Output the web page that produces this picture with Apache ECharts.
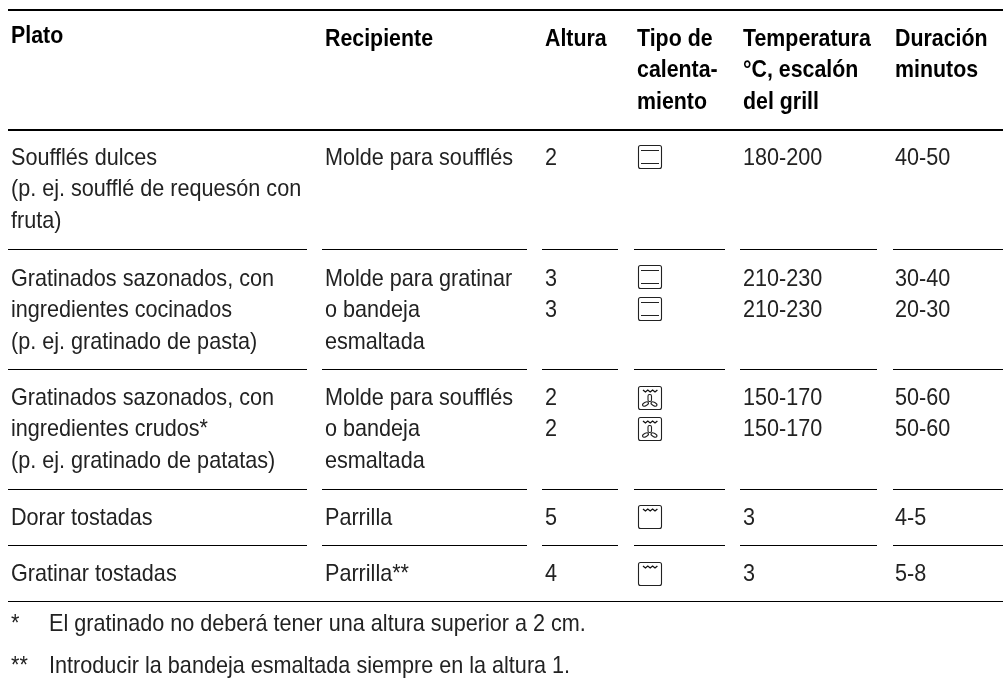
<!DOCTYPE html>
<html>
<head>
<meta charset="utf-8">
<style>
  html, body { margin: 0; padding: 0; background: #fff; }
  #main { width: 1003px; height: 686px; }
</style>
<script src="https://cdn.jsdelivr.net/npm/echarts@6/dist/echarts.min.js"></script>
</head>
<body>
<div id="main"></div>
<script>
// contenido de la tabla
const columnas = [['Plato'], ['Recipiente'], ['Altura'], ['Tipo de', 'calenta-', 'miento'], ['Temperatura', '°C, escalón', 'del grill'], ['Duración', 'minutos']]
const platos = [
  ['Soufflés dulces', '(p. ej. soufflé de requesón con', 'fruta)'],
  ['Gratinados sazonados, con', 'ingredientes cocinados', '(p. ej. gratinado de pasta)'],
  ['Gratinados sazonados, con', 'ingredientes crudos*', '(p. ej. gratinado de patatas)'],
  ['Dorar tostadas'],
  ['Gratinar tostadas'],
]
const recipientes = [
  ['Molde para soufflés'],
  ['Molde para gratinar', 'o bandeja', 'esmaltada'],
  ['Molde para soufflés', 'o bandeja', 'esmaltada'],
  ['Parrilla'],
  ['Parrilla**'],
]
const alturas = [['2'], ['3', '3'], ['2', '2'], ['5'], ['4']]
const calentamientos = ['suelo', 'suelo', 'suelo', 'aire', 'aire', 'grill', 'grill']
const temperaturas = [['180-200'], ['210-230', '210-230'], ['150-170', '150-170'], ['3'], ['3']]
const duraciones = [['40-50'], ['30-40', '20-30'], ['50-60', '50-60'], ['4-5'], ['5-8']]
const notas = [['*', 'El gratinado no deberá tener una altura superior a 2 cm.'], ['**', 'Introducir la bandeja esmaltada siempre en la altura 1.']]

// maquetación en píxeles
const colX = [11, 325, 545, 637, 743, 895]
const colFin = [307, 527, 618, 725, 877, 1003]
const colIni = [8, 322, 542, 634, 740, 893]
const filaBase = [167, 288, 407, 527, 583]
const filaFin = [249, 369, 489, 545]
const iconoY = [145, 265, 297, 386, 417, 505, 562]
const cabeceraBase = 48
const notaBase = [633, 675]
const notaX = [11, 49]
const salto = 31.6
const ajusteTexto = 9
const fuente = '"Liberation Sans", sans-serif'
const colorTexto = '#222'
const escalaNormal = 0.9
const escalaBold = 0.89

const textos = []
const addTexto = (x, base, text, bold) => textos.push({ value: [x, base - ajusteTexto], text, bold })
columnas.forEach((lineas, c) => {
  lineas.forEach((t, i) => addTexto(colX[c], (c === 0 ? cabeceraBase - 3 : cabeceraBase) + i * salto, t, true))
})
;[platos, recipientes, alturas, null, temperaturas, duraciones].forEach((col, c) => {
  if (!col) return
  col.forEach((lineas, f) => {
    lineas.forEach((t, i) => addTexto(colX[c], filaBase[f] + i * salto, t, false))
  })
})
notas.forEach((n, i) => {
  addTexto(notaX[0], notaBase[i], n[0], false)
  addTexto(notaX[1], notaBase[i], n[1], false)
})

const iconos = calentamientos.map((tipo, i) => ({ value: [colX[3] + 1, iconoY[i]], tipo }))

const reglas = [
  { value: [8, 1003, 9], ancho: 2 },
  { value: [8, 1003, 129], ancho: 2 },
  { value: [8, 1003, 601], ancho: 1 },
]
filaFin.forEach((y) => colIni.forEach((x, c) => reglas.push({ value: [x, colFin[c], y], ancho: 1 })))

const dibujarIcono = (params, api) => {
  const d = iconos[params.dataIndex]
  const p = api.coord([api.value(0), api.value(1)])
  const x = p[0]
  const y = p[1]
  const trazo = { stroke: '#222', lineWidth: 1.1, fill: 'none' }
  const hijos = [
    { type: 'rect', shape: { x: x + 0.5, y: y + 0.5, width: 23, height: 23, r: 2 }, style: trazo },
  ]
  const zigzag = () => {
    const pts = []
    for (let i = 0; i <= 6; i++) pts.push([x + 5 + i * 2.4, y + (i % 2 ? 6 : 4)])
    return { type: 'polyline', shape: { points: pts }, style: { stroke: '#111', lineWidth: 1.3, fill: 'none' } }
  }
  if (d.tipo === 'suelo') {
    hijos.push({ type: 'line', shape: { x1: x + 3, y1: y + 5.5, x2: x + 21, y2: y + 5.5 }, style: { stroke: '#222', lineWidth: 1 } })
    hijos.push({ type: 'line', shape: { x1: x + 3, y1: y + 18.5, x2: x + 21, y2: y + 18.5 }, style: { stroke: '#222', lineWidth: 1 } })
  } else if (d.tipo === 'grill') {
    hijos.push(zigzag())
  } else {
    hijos.push(zigzag())
    hijos.push({ type: 'rect', shape: { x: x + 10, y: y + 8.5, width: 3.5, height: 7, r: 1.5 }, style: trazo })
    hijos.push({ type: 'ellipse', shape: { cx: x + 7.5, cy: y + 18, rx: 3.2, ry: 1.7 }, rotation: 0.5, originX: x + 7.5, originY: y + 18, style: trazo })
    hijos.push({ type: 'ellipse', shape: { cx: x + 16, cy: y + 18, rx: 3.2, ry: 1.7 }, rotation: -0.5, originX: x + 16, originY: y + 18, style: trazo })
  }
  return { type: 'group', children: hijos }
}

const myEchart = echarts.init(document.querySelector('#main'))
myEchart.setOption({
  animation: false,
  grid: { left: 0, right: 0, top: 0, bottom: 0 },
  xAxis: { type: 'value', min: 0, max: 1003, show: false },
  yAxis: { type: 'value', min: 0, max: 686, inverse: true, show: false },
  series: [
    {
      type: 'custom',
      data: reglas,
      silent: true,
      renderItem: (params, api) => {
        const a = api.coord([api.value(0), api.value(2)])
        const b = api.coord([api.value(1), api.value(2)])
        const ancho = reglas[params.dataIndex].ancho
        return { type: 'rect', shape: { x: a[0], y: a[1], width: b[0] - a[0], height: ancho }, style: { fill: '#000' } }
      },
    },
    {
      type: 'custom',
      data: textos,
      silent: true,
      renderItem: (params, api) => {
        const p = api.coord([api.value(0), api.value(1)])
        const t = textos[params.dataIndex]
        return {
          type: 'text',
          x: p[0],
          y: p[1],
          scaleX: t.bold ? escalaBold : escalaNormal,
          style: {
            text: t.text,
            x: 0,
            y: 0,
            fill: t.bold ? '#000' : colorTexto,
            font: `${t.bold ? 'bold ' : ''}24px ${fuente}`,
            verticalAlign: 'middle',
          },
        }
      },
    },
    {
      type: 'custom',
      data: iconos,
      silent: true,
      renderItem: dibujarIcono,
    },
  ],
})
</script>
</body>
</html>
